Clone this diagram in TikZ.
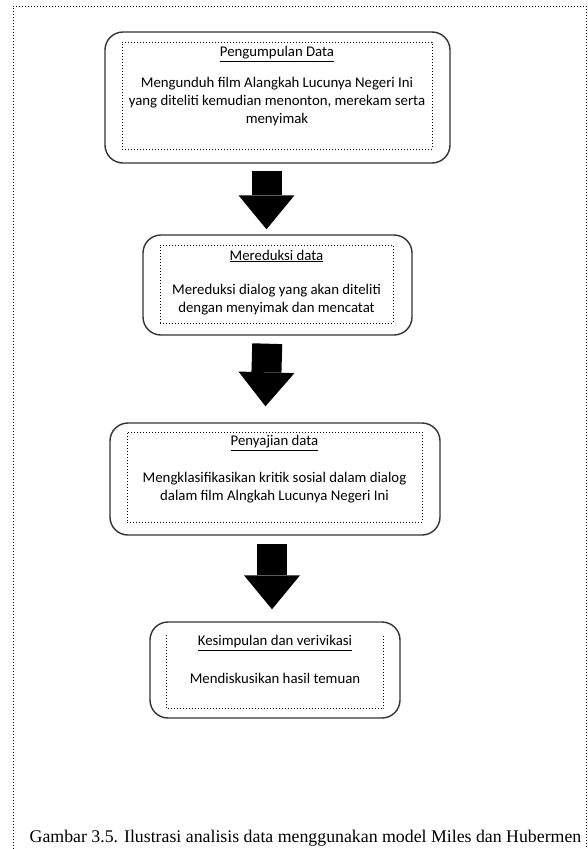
\documentclass[tikz,border=0pt]{standalone}
\usepackage{fontspec}
\setmainfont{Carlito}
\newfontfamily\capfont{Liberation Serif}
\usetikzlibrary{arrows.meta, positioning, calc}
\tikzset{
    outerbox/.style={rectangle, draw=black!80, line width=1.4pt, rounded corners=18pt},
    innerbox/.style={rectangle, dotted, line width=1pt},
    txt/.style={font=\fontsize{14.8}{18}\selectfont, align=center, inner sep=0pt},
    blockarrow/.style={line width=30pt, -{Triangle[width=56pt,length=34pt,line width=0pt]}}
}

\begin{document}
\begin{tikzpicture}[x=1pt, y=-1pt]
    \useasboundingbox (0,0) rectangle (587,849);
    \draw[dotted, line width=1pt] (13,849) -- (13,6) -- (586,6) -- (586,849);

    \node (b1) [outerbox, minimum width=345pt, minimum height=131pt] at (277.5,97.5) {};
    \node (in1) [innerbox, draw, minimum width=310pt, minimum height=107pt] at (277,95.5) {};
    \node (t1) [txt] at (277,54) {\underline{Pengumpulan Data}};
    \node (d1) [txt] at (277,102) {Mengunduh film Alangkah Lucunya Negeri Ini\\yang diteliti kemudian menonton, merekam serta\\menyimak};

    \node (b2) [outerbox, minimum width=269pt, minimum height=100pt] at (277.5,285) {};
    \node (in2) [innerbox, draw, minimum width=233pt, minimum height=78pt] at (276.5,284) {};
    \node (t2) [txt] at (276.5,256) {\underline{Mereduksi data}};
    \node (d2) [txt] at (276.5,300) {Mereduksi dialog yang akan diteliti\\dengan menyimak dan mencatat};

    \node (b3) [outerbox, minimum width=330pt, minimum height=112pt] at (275,479) {};
    \node (in3) [innerbox, draw, minimum width=295pt, minimum height=90pt] at (274.5,477) {};
    \node (t3) [txt] at (274.5,443) {\underline{Penyajian data}};
    \node (d3) [txt] at (274.5,488) {Mengklasifikasikan kritik sosial dalam dialog\\dalam film Alngkah Lucunya Negeri Ini};

    \node (b4) [outerbox, minimum width=250pt, minimum height=96pt] at (275,670) {};
    \node (in4) [innerbox, minimum width=216pt, minimum height=73pt] at (275,671.5) {};
    \draw[dotted, line width=1pt] (in4.north west) -- (in4.south west) -- (in4.south east) -- (in4.north east);
    \node (t4) [txt] at (275,643) {\underline{Kesimpulan dan verivikasi}};
    \node (d4) [txt] at (275,678) {Mendiskusikan hasil temuan};

    % arrows between steps
    \draw[blockarrow, shorten <=7pt, shorten >=5pt] ([xshift=-11pt]b1.south) -- ([xshift=-11pt]b2.north);
    \draw[blockarrow, shorten <=8pt, shorten >=16pt] ([xshift=-10pt]b2.south) -- ([xshift=-10pt]b3.north);
    \draw[blockarrow, shorten <=8pt, shorten >=12pt] ([xshift=-3pt]b3.south) -- ([xshift=-3pt]b4.north);

    \node (cap) [font=\capfont\fontsize{17.8}{20}\selectfont, inner sep=0pt] at (305.5,838) {Gambar 3.5. Ilustrasi analisis data menggunakan model Miles dan Hubermen};
\end{tikzpicture}
\end{document}
